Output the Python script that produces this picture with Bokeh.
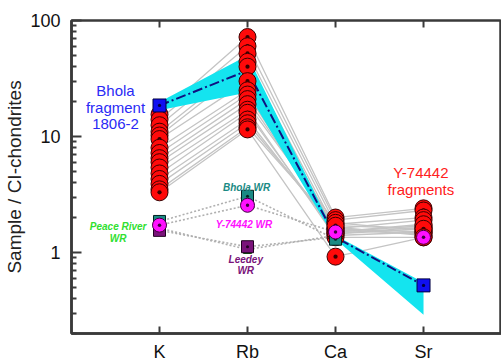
from bokeh.plotting import figure
from bokeh.models import Range1d, FixedTicker, Label
from bokeh.embed import file_html
from bokeh.resources import INLINE

# ---- data ----
elements = ["K", "Rb", "Ca", "Sr"]
xpos = [1, 2, 3, 4]

# Y-74442 fragments (CI-normalised)
frag_K = [15.5, 14.0, 12.5, 11.0, 10.2, 9.5, 8.0, 7.2, 6.5, 6.0, 5.4, 4.8, 4.3, 3.9, 3.5, 3.3]
frag_Rb = [72, 60, 52, 44, 40, 30, 25, 23, 21, 19, 17, 16, 14, 13, 12, 11.5]
frag_Ca = [2.0, 1.9, 1.75, 1.6, 1.5, 1.45, 1.4, 1.55, 1.65, 1.8, 1.35, 1.45, 1.5, 1.6, 1.7, 0.92]
frag_Sr = [2.4, 2.3, 2.0, 1.9, 1.7, 1.6, 1.5, 1.45, 1.4, 1.55, 1.35, 1.65, 1.75, 1.5, 1.6, 1.35]

# Bhola fragment 1806-2 and its range
bhola_frag = [18.5, 37, 1.35, 0.52]
band_lo = [16.8, 24, 1.3, 0.29]
band_hi = [19.8, 50, 1.4, 0.55]

# whole rocks
bhola_wr = [1.85, 3.05, 1.3]
y74442_wr = [1.72, 2.55, 1.5, 1.35]
leedey_wr = [1.55, 1.12, 1.35]
peace_wr = [1.62, 1.06, 1.4]

y_ticks = [1, 10, 100]

FONT = "Liberation Sans"
AX = "#3a3a3a"

p = figure(width=501, height=364, x_range=Range1d(0, 4.886), y_range=Range1d(0.2, 100),
           y_axis_type="log", output_backend="svg", toolbar_location=None,
           min_border_left=71, min_border_top=20, min_border_bottom=29, min_border_right=0)
p.outline_line_color = AX
p.outline_line_width = 2.5
p.outline_line_alpha = 1.0
p.xgrid.grid_line_color = None
p.ygrid.grid_line_color = None

# bottom axis
xa = p.xaxis[0]
xa.ticker = FixedTicker(ticks=xpos)
xa.major_label_overrides = {x: e for x, e in zip(xpos, elements)}
xa.minor_tick_line_color = None
xa.major_tick_in = 7
xa.major_tick_out = 0
xa.axis_line_width = 2.5
xa.axis_line_color = AX
xa.major_tick_line_width = 2
xa.major_tick_line_color = AX
xa.major_label_text_font = FONT
xa.major_label_text_font_size = "18px"
xa.major_label_text_color = "#111111"
xa.major_label_standoff = 8

# left axis
ya = p.yaxis[0]
ya.ticker = FixedTicker(ticks=y_ticks,
                        minor_ticks=[m * 10 ** e for e in (-1, 0, 1) for m in range(2, 10) if m * 10 ** e >= 0.2])
ya.major_label_overrides = {t: str(t) for t in y_ticks}
ya.major_tick_in = 10
ya.major_tick_out = 0
ya.minor_tick_in = 5
ya.minor_tick_out = 0
ya.axis_line_width = 2.5
ya.axis_line_color = AX
ya.major_tick_line_width = 2
ya.major_tick_line_color = AX
ya.minor_tick_line_width = 2
ya.minor_tick_line_color = AX
ya.major_label_text_font = FONT
ya.major_label_text_font_size = "18px"
ya.major_label_text_color = "#111111"
ya.major_label_standoff = 11
ya.axis_label = "Sample / CI-chondrites"
ya.axis_label_text_font = FONT
ya.axis_label_text_font_size = "19px"
ya.axis_label_text_font_style = "normal"
ya.axis_label_text_color = "#222222"
ya.axis_label_standoff = 2

# inward ticks at the top edge
p.ray(x=xpos, y=[y_ticks[-1]] * len(xpos), length=7, length_units="screen",
      angle=-90, angle_units="deg", line_color=AX, line_width=2)

# fragment lines
xs = [xpos] * len(frag_K)
ys = [[a, b, c, d] for a, b, c, d in zip(frag_K, frag_Rb, frag_Ca, frag_Sr)]
p.multi_line(xs, ys, line_color="#c4c4c4", line_width=1.3)

# Bhola fragment range band
p.varea(x=xpos, y1=band_lo, y2=band_hi, fill_color="#14e4ef")

# whole-rock dotted lines
for vals in (bhola_wr, y74442_wr[:3], leedey_wr, peace_wr):
    p.line(xpos[:len(vals)], vals, line_color="#b0b0b0", line_width=1.6, line_dash="2 2")

# Bhola fragment dashed line
p.line(xpos, bhola_frag, line_color="#101080", line_width=2, line_dash="10 3 2 3")

# red fragment markers
for vals, x in zip((frag_K, frag_Rb, frag_Ca, frag_Sr), xpos):
    p.scatter([x] * len(vals), vals, marker="circle_dot", size=17, fill_color="#ff0a0a",
              line_color="#3a0000", line_width=1)

# Bhola fragment squares
p.scatter([xpos[0], xpos[3]], [bhola_frag[0], bhola_frag[3]], marker="square_dot", size=13,
          fill_color="#1010f0", line_color="#000040", line_width=1)

# whole-rock markers
p.scatter(xpos[:3], peace_wr, marker="square", size=8, fill_color="#30e030", line_color="#105010")
p.scatter(xpos[:3], leedey_wr, marker="square_dot", size=12, fill_color="#7a137a", line_color="#200020")
p.scatter(xpos[:3], bhola_wr, marker="square_dot", size=12, fill_color="#1a8a84", line_color="#002020")
p.scatter(xpos, y74442_wr, marker="circle_dot", size=14, fill_color="#ff10ff", line_color="#400040")

# labels
def lab(x, y, t, color, size, style="normal"):
    p.add_layout(Label(x=x, y=y, text=t, text_color=color, text_font=FONT,
                       text_font_size=size, text_font_style=style,
                       text_align="center", text_baseline="middle"))

lab(0.5, 25, "Bhola", "#2a2af5", "15px")
lab(0.5, 17.9, "fragment", "#2a2af5", "15px")
lab(0.5, 12.8, "1806-2", "#2a2af5", "15px")
lab(3.97, 4.86, "Y-74442", "#ff2020", "15px")
lab(3.97, 3.47, "fragments", "#ff2020", "15px")
lab(1.99, 3.65, "Bhola WR", "#1a8a84", "10px", "bold italic")
lab(1.96, 1.74, "Y-74442 WR", "#ff10ff", "10px", "bold italic")
lab(1.98, 0.87, "Leedey", "#7a137a", "10px", "bold italic")
lab(1.98, 0.70, "WR", "#7a137a", "10px", "bold italic")
lab(0.53, 1.67, "Peace River", "#30e030", "10px", "bold italic")
lab(0.53, 1.33, "WR", "#30e030", "10px", "bold italic")

open("out.html", "w").write(file_html(p, INLINE))
